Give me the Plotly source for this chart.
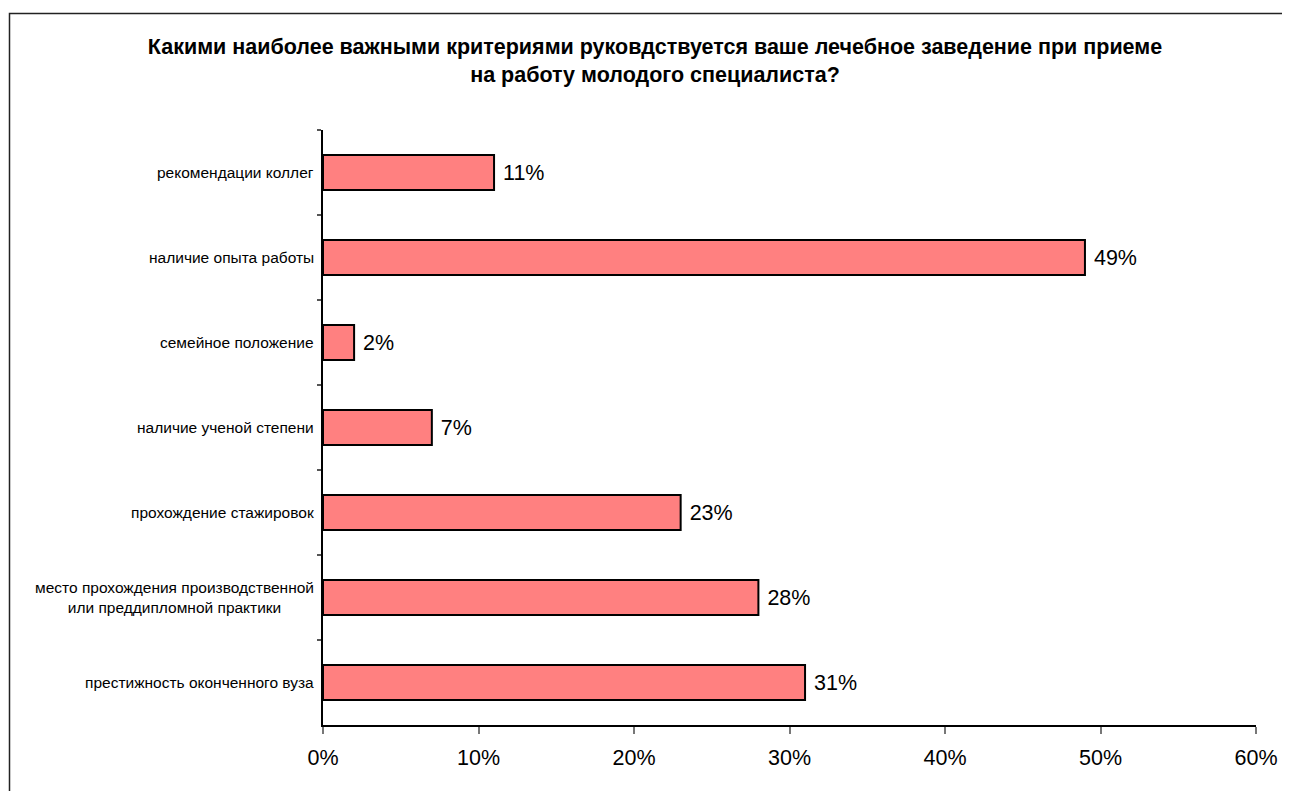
import plotly.graph_objects as go

# categories listed top to bottom as in the reference
categories = [
    "рекомендации коллег",
    "наличие опыта работы",
    "семейное положение",
    "наличие ученой степени",
    "прохождение стажировок",
    "место прохождения производственной<br>или преддипломной практики",
    "престижность оконченного вуза",
]
values = [11, 49, 2, 7, 23, 28, 31]
x_ticks = [0, 10, 20, 30, 40, 50, 60]
x_tick_labels = ["0%", "10%", "20%", "30%", "40%", "50%", "60%"]
title_text = ("Какими наиболее важными критериями руковдствуется ваше лечебное заведение при приеме"
              "<br>на работу молодого специалиста?")

FONT = "Arial, Liberation Sans, sans-serif"
L, T, W, H = 315, 122, 933, 595

fig = go.Figure()
fig.add_trace(go.Bar(
    y=categories,
    x=values,
    orientation="h",
    width=0.41,
    marker=dict(color="#FF8080", line=dict(color="black", width=2)),
    text=[f" {v}%" for v in values],
    textposition="outside",
    textfont=dict(family=FONT, size=21.5, color="black"),
    cliponaxis=False,
    hoverinfo="skip",
))

annotations = []
for c in categories:
    annotations.append(dict(
        x=0, xref="paper", xanchor="right", xshift=-7,
        y=c, yref="y", yanchor="middle",
        text=c, showarrow=False, align="center",
        font=dict(family=FONT, size=15.5, color="black"),
    ))

fig.update_layout(
    width=1290, height=791,
    margin=dict(l=L, r=1290 - L - W, t=T, b=791 - T - H),
    paper_bgcolor="white", plot_bgcolor="white",
    showlegend=False,
    title=dict(
        text=title_text,
        x=647 / 1290, xanchor="center", xref="container",
        y=1 - 46 / 791, yanchor="middle", yref="container",
        font=dict(family=FONT, size=21.5, color="black", weight="bold"),
    ),
    xaxis=dict(
        range=[0, 60],
        tickvals=x_ticks, ticktext=x_tick_labels,
        showgrid=False, zeroline=False,
        showline=True, linecolor="black", linewidth=1.5,
        ticks="outside", ticklen=7, tickcolor="#777777", tickwidth=1.5,
        ticklabelstandoff=5,
        tickfont=dict(family=FONT, size=21.5, color="black"),
    ),
    yaxis=dict(
        categoryorder="array", categoryarray=categories,
        autorange="reversed",
        showticklabels=False,
        showgrid=False, zeroline=False,
        showline=True, linecolor="black", linewidth=1.5,
        ticks="outside", tickson="boundaries", ticklen=4, tickcolor="#555555", tickwidth=1.5,
    ),
    annotations=annotations,
    shapes=[dict(
        type="rect", xref="paper", yref="paper",
        x0=(1.5 - L) / W, x1=(1320 - L) / W,
        y0=(T + H - 820) / H, y1=(T + H - 5.5) / H,
        line=dict(color="#222222", width=1.5), fillcolor="rgba(0,0,0,0)",
        layer="below",
    )],
)

fig.write_html("out.html")
